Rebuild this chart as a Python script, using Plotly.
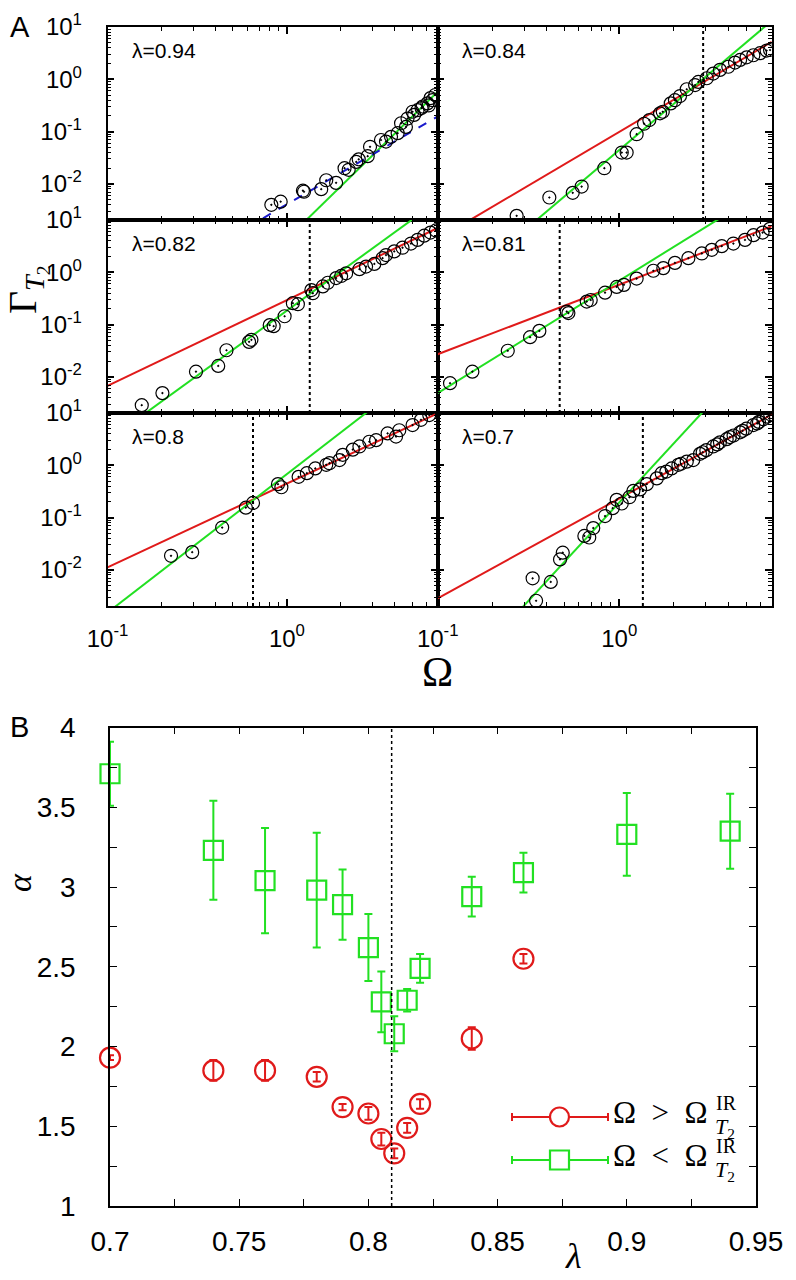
import numpy as np
import plotly.graph_objects as go

W, H = 796, 1280
OFF = 8  # the page body adds an 8 px margin; positions below are in window pixels

# ---------------- Panel A data (log10 values) ----------------
panel_labels = ["λ=0.94", "λ=0.84", "λ=0.82", "λ=0.81", "λ=0.8", "λ=0.7"]

logw_094 = [-0.087, -0.035, 0.089, 0.095, 0.191, 0.219, 0.274, 0.321, 0.344, 0.386, 0.40, 0.45, 0.463,
            0.524, 0.552, 0.58, 0.617, 0.636, 0.663, 0.672, 0.70, 0.709, 0.728, 0.75, 0.756, 0.783,
            0.79, 0.80, 0.811, 0.826]
logg_094 = [-2.40, -2.34, -2.13, -2.15, -2.10, -1.93, -1.98, -1.70, -1.73, -1.58, -1.53, -1.47, -1.29,
            -1.16, -1.19, -1.10, -1.03, -0.84, -0.91, -0.75, -0.62, -0.68, -0.59, -0.55, -0.52, -0.46,
            -0.50, -0.36, -0.40, -0.30]

logw_084 = [-0.565, -0.385, -0.256, -0.207, -0.082, 0.014, 0.041, 0.096, 0.137, 0.166, 0.225, 0.24, 0.284,
            0.307, 0.335, 0.372, 0.418, 0.436, 0.482, 0.518, 0.555, 0.601, 0.638, 0.666, 0.702, 0.739,
            0.776, 0.812, 0.831]
logg_084 = [-2.61, -2.26, -2.17, -2.05, -1.70, -1.40, -1.40, -1.05, -0.85, -0.78, -0.65, -0.62, -0.46,
            -0.40, -0.32, -0.19, -0.11, -0.05, 0.02, 0.11, 0.18, 0.24, 0.32, 0.37, 0.42, 0.46,
            0.50, 0.55, 0.56]

logw_082 = [-0.809, -0.694, -0.507, -0.383, -0.337, -0.211, -0.198, -0.096, -0.074, -0.013, 0.033, 0.061,
            0.136, 0.144, 0.20, 0.228, 0.274, 0.302, 0.33, 0.404, 0.441, 0.487, 0.533, 0.552, 0.598,
            0.644, 0.691, 0.728, 0.765, 0.80, 0.83]
logg_082 = [-2.54, -2.31, -1.90, -1.79, -1.49, -1.33, -1.29, -1.01, -1.03, -0.84, -0.59, -0.61,
            -0.34, -0.40, -0.27, -0.20, -0.11, -0.07, -0.02, 0.06, 0.11, 0.16, 0.27, 0.33, 0.40,
            0.47, 0.55, 0.62, 0.70, 0.76, 0.80]

logw_081 = [-0.932, -0.809, -0.614, -0.491, -0.44, -0.289, -0.28, -0.179, -0.157, -0.078, -0.014, 0.026,
            0.096, 0.188, 0.243, 0.307, 0.381, 0.455, 0.51, 0.565, 0.629, 0.693, 0.74, 0.79, 0.83]
logg_081 = [-2.12, -1.90, -1.50, -1.24, -1.12, -0.75, -0.78, -0.56, -0.53, -0.39, -0.28, -0.24,
            -0.12, 0.03, 0.08, 0.18, 0.27, 0.36, 0.43, 0.50, 0.55, 0.62, 0.71, 0.76, 0.83]

logw_080 = [-0.646, -0.528, -0.361, -0.229, -0.189, -0.05, -0.031, 0.065, 0.111, 0.158, 0.219, 0.237,
            0.293, 0.311, 0.367, 0.404, 0.459, 0.497, 0.561, 0.608, 0.626, 0.70, 0.747, 0.793]
logg_080 = [-1.73, -1.66, -1.19, -0.81, -0.72, -0.36, -0.42, -0.22, -0.15, -0.06, 0.01, 0.04,
            0.10, 0.20, 0.30, 0.36, 0.45, 0.48, 0.61, 0.55, 0.67, 0.77, 0.87, 0.96]

logw_070 = [-0.458, -0.477, -0.377, -0.326, -0.311, -0.192, -0.165, -0.143, -0.078, -0.036, -0.014, 0.014,
            0.056, 0.078, 0.115, 0.152, 0.207, 0.234, 0.26, 0.289, 0.326, 0.34, 0.372, 0.408, 0.445,
            0.46, 0.48, 0.518, 0.54, 0.555, 0.592, 0.61, 0.63, 0.666, 0.68, 0.70, 0.739, 0.76, 0.77,
            0.794, 0.815, 0.831]
logg_070 = [-2.59, -2.16, -2.23, -1.80, -1.67, -1.35, -1.38, -1.20, -0.97, -0.82, -0.66, -0.73,
            -0.61, -0.49, -0.46, -0.36, -0.25, -0.15, -0.12, -0.06, 0.01, 0.03, 0.07, 0.10, 0.22,
            0.25, 0.29, 0.36, 0.40, 0.44, 0.50, 0.54, 0.57, 0.63, 0.66, 0.70, 0.77, 0.80, 0.83,
            0.88, 0.93, 0.98]

logw_sets = [logw_094, logw_084, logw_082, logw_081, logw_080, logw_070]
logg_sets = [logg_094, logg_084, logg_082, logg_081, logg_080, logg_070]

# power-law fits: Gamma = 10**logamp * Omega**slope
red_slope = [None, 2.05, 1.64, 1.33, 1.60, 1.91]
red_logamp = [None, -1.005, -0.53, -0.237, -0.35, -0.635]
green_slope = [3.35, 2.94, 2.49, 2.15, 2.65, 3.76]
green_logamp = [-3.052, -1.352, -0.73, -0.16, -0.167, -0.711]
blue_slope = 2.0
blue_logamp = -2.39
omega_ir = [None, 2.9, 1.34, 0.47, 0.647, 1.35]

omega_range = [0.1, 6.92]
gamma_range_log = [-2.69, 1.0]

# ---------------- Panel B data ----------------
lam_red = [0.70, 0.74, 0.76, 0.78, 0.79, 0.80, 0.805, 0.81, 0.815, 0.82, 0.84, 0.86]
alpha_red = [1.93, 1.85, 1.85, 1.81, 1.62, 1.58, 1.42, 1.33, 1.49, 1.64, 2.05, 2.55]
err_red = [0.015, 0.065, 0.065, 0.03, 0.02, 0.04, 0.04, 0.03, 0.03, 0.03, 0.07, 0.03]

lam_green = [0.70, 0.74, 0.76, 0.78, 0.79, 0.80, 0.805, 0.81, 0.815, 0.82, 0.84, 0.86, 0.90, 0.94]
alpha_green = [3.71, 3.23, 3.04, 2.98, 2.89, 2.62, 2.28, 2.08, 2.29, 2.49, 2.94, 3.09, 3.33, 3.35]
err_green = [0.20, 0.31, 0.33, 0.36, 0.22, 0.21, 0.19, 0.11, 0.07, 0.09, 0.125, 0.125, 0.26, 0.235]

lam_critical = 0.809

RED = "#e01a1a"
GREEN = "#22e022"
BLUE = "#1a1acc"
SANS = "Liberation Sans, Arial, sans-serif"
SERIF = "Liberation Serif, Times New Roman, serif"


def fx(px):
    return (px - OFF) / W


def fy(py):
    return 1 - (py - OFF) / H


fig = go.Figure()
layout = dict(width=W, height=H, margin=dict(l=0, r=0, t=0, b=0, autoexpand=False),
              template="none",
              paper_bgcolor="white", plot_bgcolor="white", showlegend=False)

col_x = [(107.5, 437.7), (437.7, 771.7)]
row_y = [(27, 220), (220, 413), (413, 606)]

x_major = [0.1, 1]
x_major_text = ["10<sup>-1</sup>", "10<sup>0</sup>"]
x_minor = [m * 0.1 for m in range(2, 10)] + [float(m) for m in range(2, 7)]
y_major = [0.01, 0.1, 1, 10]
y_major_text = ["10<sup>-2</sup>", "10<sup>-1</sup>", "10<sup>0</sup>", "10<sup>1</sup>"]
y_minor = [m * d for d in (0.001, 0.01, 0.1, 1) for m in range(2, 10) if m * d >= 0.0021]

annotations = []
shapes = []

for i in range(6):
    r, c = i // 2, i % 2
    n = i + 1
    xa = "x" if n == 1 else f"x{n}"
    ya = "y" if n == 1 else f"y{n}"
    xkey = "xaxis" if n == 1 else f"xaxis{n}"
    ykey = "yaxis" if n == 1 else f"yaxis{n}"
    x0, x1 = col_x[c]
    yt, yb = row_y[r]
    layout[xkey] = dict(
        type="log", range=[np.log10(omega_range[0]), np.log10(omega_range[1])],
        domain=[fx(x0), fx(x1)], anchor=ya, automargin=False,
        showline=True, linecolor="black", linewidth=1.5, mirror="ticks",
        ticks="inside", ticklen=7, tickwidth=1.5, tickcolor="black",
        tickmode="array", tickvals=x_major, ticktext=x_major_text,
        showticklabels=(r == 2), tickfont=dict(family=SANS, size=24, color="black"),
        ticklabelstandoff=10,
        minor=dict(tickmode="array", tickvals=x_minor, ticks="inside", ticklen=4,
                   tickwidth=1, tickcolor="black", showgrid=False),
        showgrid=False, zeroline=False)
    layout[ykey] = dict(
        type="log", range=gamma_range_log,
        domain=[fy(yb), fy(yt)], anchor=xa, automargin=False,
        showline=True, linecolor="black", linewidth=1.5, mirror="ticks",
        ticks="inside", ticklen=7, tickwidth=1.5, tickcolor="black",
        tickmode="array", tickvals=y_major, ticktext=y_major_text,
        showticklabels=(c == 0), tickfont=dict(family=SANS, size=24, color="black"),
        ticklabelstandoff=19,
        minor=dict(tickmode="array", tickvals=y_minor, ticks="inside", ticklen=4,
                   tickwidth=1, tickcolor="black", showgrid=False),
        showgrid=False, zeroline=False)

    w_line = np.array(omega_range)
    if red_slope[i] is not None:
        fig.add_trace(go.Scatter(x=w_line, y=10 ** red_logamp[i] * w_line ** red_slope[i],
                                 mode="lines", line=dict(color=RED, width=2),
                                 xaxis=xa, yaxis=ya, hoverinfo="skip"))
    fig.add_trace(go.Scatter(x=w_line, y=10 ** green_logamp[i] * w_line ** green_slope[i],
                             mode="lines", line=dict(color=GREEN, width=2),
                             xaxis=xa, yaxis=ya, hoverinfo="skip"))
    if i == 0:
        fig.add_trace(go.Scatter(x=w_line, y=10 ** blue_logamp * w_line ** blue_slope,
                                 mode="lines", line=dict(color=BLUE, width=2, dash="dash"),
                                 xaxis=xa, yaxis=ya, hoverinfo="skip"))
    fig.add_trace(go.Scatter(x=10 ** np.array(logw_sets[i]), y=10 ** np.array(logg_sets[i]),
                             mode="markers",
                             marker=dict(symbol="circle-open-dot", size=13, color="black",
                                         line=dict(color="black", width=1.2)),
                             xaxis=xa, yaxis=ya))
    if omega_ir[i] is not None:
        shapes.append(dict(type="line", xref=xa, yref=f"{ya} domain",
                           x0=omega_ir[i], x1=omega_ir[i], y0=0, y1=1,
                           line=dict(color="black", width=2, dash="dot")))
    annotations.append(dict(text=panel_labels[i], x=fx(x0 + 22), y=fy(yt + 23),
                            xref="paper", yref="paper", xanchor="left", yanchor="middle",
                            showarrow=False, font=dict(family=SANS, size=21, color="black")))

# ---------------- Panel B ----------------
bx0, bx1, byt, byb = 110, 756, 727.5, 1206
layout["xaxis7"] = dict(
    range=[0.7, 0.95], domain=[fx(bx0), fx(bx1)], anchor="y7", automargin=False,
    showline=True, linecolor="black", linewidth=1.5, mirror="ticks",
    ticks="inside", ticklen=7, tickwidth=1.2, tickcolor="black",
    tickmode="array", tickvals=[0.7, 0.75, 0.8, 0.85, 0.9, 0.95],
    ticktext=["0.7", "0.75", "0.8", "0.85", "0.9", "0.95"],
    tickfont=dict(family=SANS, size=28, color="black"), ticklabelstandoff=10,
    minor=dict(tickmode="array", tickvals=[0.725, 0.775, 0.825, 0.875, 0.925],
               ticks="inside", ticklen=7, tickwidth=1.2, tickcolor="black", showgrid=False),
    showgrid=False, zeroline=False)
layout["yaxis7"] = dict(
    range=[1, 4], domain=[fy(byb), fy(byt)], anchor="x7", automargin=False,
    showline=True, linecolor="black", linewidth=1.5, mirror="ticks",
    ticks="inside", ticklen=7, tickwidth=1.2, tickcolor="black",
    tickmode="array", tickvals=[1, 1.5, 2, 2.5, 3, 3.5, 4],
    ticktext=["1", "1.5", "2", "2.5", "3", "3.5", "4"],
    tickfont=dict(family=SANS, size=28, color="black"), ticklabelstandoff=27,
    minor=dict(tickmode="array", tickvals=[1.25, 1.75, 2.25, 2.75, 3.25, 3.75],
               ticks="inside", ticklen=7, tickwidth=1.2, tickcolor="black", showgrid=False),
    showgrid=False, zeroline=False)

shapes.append(dict(type="line", xref="x7", yref="y7 domain", x0=lam_critical, x1=lam_critical,
                   y0=0, y1=1, line=dict(color="black", width=1.5, dash="dot")))

fig.add_trace(go.Scatter(x=lam_green, y=alpha_green, mode="markers",
                         error_y=dict(type="data", array=err_green, color=GREEN, thickness=2, width=4),
                         marker=dict(symbol="square-open", size=19, color=GREEN,
                                     line=dict(color=GREEN, width=2.2)),
                         xaxis="x7", yaxis="y7", cliponaxis=False))
fig.add_trace(go.Scatter(x=lam_red, y=alpha_red, mode="markers",
                         error_y=dict(type="data", array=err_red, color=RED, thickness=2, width=4),
                         marker=dict(symbol="circle-open", size=20, color=RED,
                                     line=dict(color=RED, width=2.2)),
                         xaxis="x7", yaxis="y7", cliponaxis=False))

# legend for panel B (drawn glyphs)
leg = [(1117, RED, "circle", "Ω&nbsp;&nbsp;>&nbsp;&nbsp;Ω"), (1160, GREEN, "rect", "Ω&nbsp;&nbsp;<&nbsp;&nbsp;Ω")]
for yy, col, shp, txt in leg:
    shapes.append(dict(type="line", xref="paper", yref="paper", x0=fx(512), x1=fx(608),
                       y0=fy(yy), y1=fy(yy), line=dict(color=col, width=2)))
    for xc in (512, 608):
        shapes.append(dict(type="line", xref="paper", yref="paper", x0=fx(xc), x1=fx(xc),
                           y0=fy(yy - 4), y1=fy(yy + 4), line=dict(color=col, width=2)))
    shapes.append(dict(type=shp, xref="paper", yref="paper", x0=fx(550), x1=fx(569),
                       y0=fy(yy + 9.5), y1=fy(yy - 9.5), line=dict(color=col, width=2.2),
                       fillcolor="white"))
    annotations.append(dict(text=txt, x=fx(611), y=fy(yy - 5), xref="paper", yref="paper",
                            xanchor="left", yanchor="middle", showarrow=False,
                            font=dict(family=SERIF, size=31, color="black")))
    annotations.append(dict(text="IR", x=fx(714), y=fy(yy - 14), xref="paper", yref="paper",
                            xanchor="left", yanchor="middle", showarrow=False,
                            font=dict(family=SERIF, size=20, color="black")))
    annotations.append(dict(text="<i>T</i><sub>2</sub>", x=fx(713), y=fy(yy + 11), xref="paper",
                            yref="paper", xanchor="left", yanchor="middle", showarrow=False,
                            font=dict(family=SERIF, size=22, color="black")))

# axis titles and panel letters
annotations += [
    dict(text="A", x=fx(OFF), y=fy(27), xref="paper", yref="paper", xanchor="left", yanchor="middle",
         showarrow=False, font=dict(family=SANS, size=29, color="black")),
    dict(text="B", x=fx(OFF), y=fy(727), xref="paper", yref="paper", xanchor="left", yanchor="middle",
         showarrow=False, font=dict(family=SANS, size=29, color="black")),
    dict(text="Γ<sub><i>T</i><sub>2</sub></sub>", x=fx(27), y=fy(290), xref="paper", yref="paper",
         xanchor="center", yanchor="middle", textangle=-90, showarrow=False,
         font=dict(family=SERIF, size=40, color="black")),
    dict(text="Ω", x=fx(437), y=fy(672), xref="paper", yref="paper", xanchor="center",
         yanchor="middle", showarrow=False, font=dict(family=SERIF, size=42, color="black")),
    dict(text="<i>α</i>", x=fx(19), y=fy(883), xref="paper", yref="paper", xanchor="center",
         yanchor="middle", textangle=-90, showarrow=False,
         font=dict(family=SERIF, size=34, color="black")),
    dict(text="<i>λ</i>", x=fx(573), y=fy(1256), xref="paper", yref="paper", xanchor="center",
         yanchor="middle", showarrow=False, font=dict(family=SERIF, size=36, color="black")),
]

layout["annotations"] = annotations
layout["shapes"] = shapes
fig.update_layout(**layout)
fig.write_html("out.html")
